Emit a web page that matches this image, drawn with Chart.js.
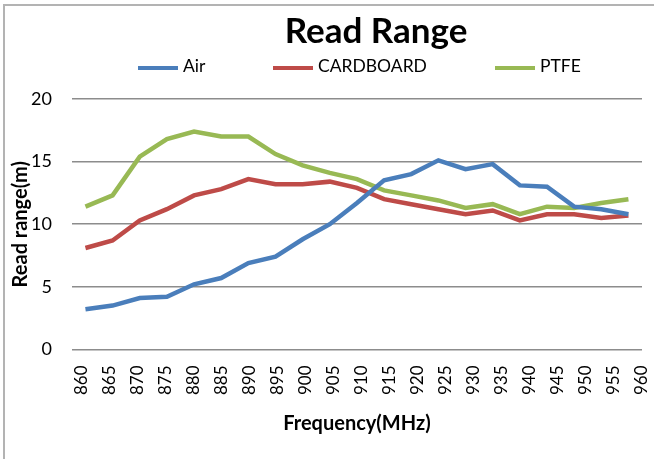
<!DOCTYPE html>
<html>
<head>
<meta charset="utf-8">
<script src="https://cdn.jsdelivr.net/npm/chart.js@4"></script>
<style>
  body { margin: 0; background: #fff; overflow: hidden; }
  #frame { position: absolute; left: 3px; top: 4px; width: 760px; height: 480px; border: 2px solid #b3b3b3; }
  #wrap { position: absolute; left: 0; top: 0; width: 738px; height: 450px; }
  .item { position: absolute; top: 56px; font: 17.5px Lato, sans-serif; color: #000; white-space: nowrap; line-height: 20px; }
  .swatch { display: inline-block; width: 40px; height: 4px; vertical-align: middle; margin-right: 5px; }
</style>
</head>
<body>
<div id="frame">
  <div id="wrap"><canvas id="rangeChart"></canvas></div>
</div>
<div id="legend"></div>
<script>
// frequencies (MHz)
const freqs = ['860', '865', '870', '875', '880', '885', '890', '895', '900', '905', '910',
               '915', '920', '925', '930', '935', '940', '945', '950', '955', '960'];

// read range (m) per material
const airData = [3.2, 3.5, 4.1, 4.2, 5.2, 5.7, 6.9, 7.4, 8.8, 10.0, 11.7,
                 13.5, 14.0, 15.1, 14.4, 14.8, 13.1, 13.0, 11.4, 11.2, 10.8];
const cardboardData = [8.1, 8.7, 10.3, 11.2, 12.3, 12.8, 13.6, 13.2, 13.2, 13.4, 12.9,
                       12.0, 11.6, 11.2, 10.8, 11.1, 10.3, 10.8, 10.8, 10.5, 10.7];
const ptfeData = [11.4, 12.3, 15.4, 16.8, 17.4, 17.0, 17.0, 15.6, 14.7, 14.1, 13.6,
                  12.7, 12.3, 11.9, 11.3, 11.6, 10.8, 11.4, 11.3, 11.7, 12.0];

const seriesNames = ['Air', 'CARDBOARD', 'PTFE'];
const seriesColors = ['#4A7EBB', '#BE4B48', '#98B954'];
const legendLeft = [138, 273, 495];

const rangeData = {
    labels: freqs,
    datasets: [airData, cardboardData, ptfeData].map((d, i) => ({
        label: seriesNames[i],
        data: d,
        borderColor: seriesColors[i],
        backgroundColor: seriesColors[i],
        borderWidth: 4.5,
        pointRadius: 0,
        tension: 0
    }))
};

const rangeChartConfig = {
    type: 'line',
    data: rangeData,
    options: {
        responsive: true,
        maintainAspectRatio: false,
        animation: false,
        layout: { padding: { left: 4, right: 0, bottom: 20 } },
        plugins: {
            legend: { display: false },
            tooltip: { enabled: false },
            title: {
                display: true,
                text: 'Read Range',
                color: '#000',
                font: { family: 'Lato', size: 35, weight: 'bold' },
                padding: { top: 5, bottom: 46 }
            }
        },
        scales: {
            // category axis that places the points
            x: {
                offset: true,
                display: false
            },
            // axis that carries the frequency labels (Excel spaces them a bit wider)
            xl: {
                type: 'linear',
                position: 'bottom',
                min: 858.2,
                max: 960,
                afterBuildTicks: axis => { axis.ticks = freqs.map(f => ({ value: +f })); },
                grid: { display: false },
                border: { display: false },
                ticks: {
                    color: '#000',
                    font: { family: 'Lato', size: 17 },
                    minRotation: 90,
                    maxRotation: 90,
                    autoSkip: false,
                    padding: 8
                },
                title: {
                    display: true,
                    text: 'Frequency(MHz)',
                    color: '#000',
                    font: { family: 'Lato', size: 20, weight: 'bold' },
                    padding: { top: 9, bottom: 0 }
                }
            },
            y: {
                min: 0,
                max: 20,
                grid: { color: '#8c8c8c', lineWidth: 1.5, drawTicks: false },
                border: { display: false },
                ticks: {
                    stepSize: 5,
                    color: '#000',
                    font: { family: 'Lato', size: 18 },
                    padding: 20
                },
                title: {
                    display: true,
                    text: 'Read range(m)',
                    color: '#000',
                    font: { family: 'Lato', size: 20, weight: 'bold' },
                    padding: { top: 0, bottom: -22 }
                }
            },
            // empty space on the right, the picture is cropped there
            yr: {
                position: 'right',
                grid: { display: false },
                border: { display: false },
                ticks: { display: false },
                afterFit: axis => { axis.width = 101; }
            }
        }
    }
};

// legend drawn as html so the wide item spacing matches
const legendBox = document.getElementById('legend');
seriesNames.forEach((name, i) => {
    const item = document.createElement('span');
    item.className = 'item';
    item.style.left = legendLeft[i] + 'px';
    const sw = document.createElement('span');
    sw.className = 'swatch';
    sw.style.background = seriesColors[i];
    item.appendChild(sw);
    item.appendChild(document.createTextNode(name));
    legendBox.appendChild(item);
});

window.onload = function () {
    const ctx = document.getElementById('rangeChart').getContext('2d');
    new Chart(ctx, rangeChartConfig);
};
</script>
</body>
</html>
